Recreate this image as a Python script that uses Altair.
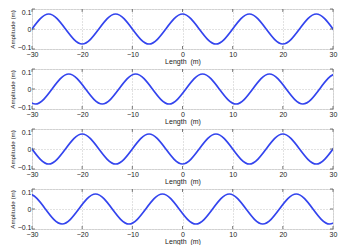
import altair as alt
import pandas as pd

# Key points (zero crossings and extrema)
X1 = [-36.67, -33.33, -30.0, -26.67, -23.33, -20.0, -16.67, -13.33, -10.0, -6.67, -3.33, 0.0,
      3.33, 6.67, 10.0, 13.33, 16.67, 20.0, 23.33, 26.67, 30.0, 33.33, 36.67]
Y1 = [0, -0.075, 0, 0.075, 0, -0.075, 0, 0.075, 0, -0.075, 0, 0.075,
      0, -0.075, 0, 0.075, 0, -0.075, 0, 0.075, 0, -0.075, 0]

X2 = [-39.33, -36.0, -32.67, -29.33, -26.0, -22.67, -19.33, -16.0, -12.67, -9.33, -6.0, -2.67,
      0.67, 4.0, 7.33, 10.67, 14.0, 17.33, 20.67, 24.0, 27.33, 30.67, 34.0, 37.33]
Y2 = [0, 0.075, 0, -0.075, 0, 0.075, 0, -0.075, 0, 0.075, 0, -0.075,
      0, 0.075, 0, -0.075, 0, 0.075, 0, -0.075, 0, 0.075, 0, -0.075]

X3 = [-36.67, -33.33, -30.0, -26.67, -23.33, -20.0, -16.67, -13.33, -10.0, -6.67, -3.33, 0.0,
      3.33, 6.67, 10.0, 13.33, 16.67, 20.0, 23.33, 26.67, 30.0, 33.33, 36.67]
Y3 = [0, 0.075, 0, -0.075, 0, 0.075, 0, -0.075, 0, 0.075, 0, -0.075,
      0, 0.075, 0, -0.075, 0, 0.075, 0, -0.075, 0, 0.075, 0]

X4 = [-37.33, -34.0, -30.67, -27.33, -24.0, -20.67, -17.33, -14.0, -10.67, -7.33, -4.0, -0.67,
      2.67, 6.0, 9.33, 12.67, 16.0, 19.33, 22.67, 26.0, 29.33, 32.67, 36.0, 39.33]
Y4 = [-0.075, 0, 0.075, 0, -0.075, 0, 0.075, 0, -0.075, 0, 0.075, 0,
      -0.075, 0, 0.075, 0, -0.075, 0, 0.075, 0, -0.075, 0, 0.075, 0]

X_TICKS = [-30, -20, -10, 0, 10, 20, 30]
Y_TICKS = [-0.1, 0, 0.1]

W, H = 301, 40
LINE = "#3344ee"
FRAME = "#9a9a9a"
TXT = "#222222"
FONT = "Liberation Sans"

xscale = alt.Scale(domain=[-30, 30], nice=False, zero=False)
yscale = alt.Scale(domain=[-0.1, 0.1], nice=False, zero=False)

xaxis = alt.Axis(
    values=X_TICKS, format="d", title="Length\u00a0 (m)",
    grid=True, gridDash=[1, 2], gridColor="#c4c4c4",
    ticks=False, domain=False, labelPadding=1, titlePadding=0,
    labelFontSize=7, titleFontSize=7, labelColor=TXT, titleColor=TXT,
    labelFont=FONT, titleFont=FONT, titleFontWeight="normal", labelFlush=False)
yaxis = alt.Axis(
    values=Y_TICKS, labelExpr="datum.value == 0 ? '0' : format(datum.value, '.1f')",
    labelOffset={"condition": [{"test": "datum.value > 0.05", "value": 3.5},
                               {"test": "datum.value < -0.05", "value": -1.5}],
                 "value": 0},
    title="Amplitude (m)", grid=True, gridDash=[1, 2], gridColor="#c4c4c4",
    ticks=False, domain=False, labelPadding=1, titlePadding=2,
    labelFontSize=7, titleFontSize=6.2, labelColor=TXT, titleColor=TXT,
    labelFont=FONT, titleFont=FONT, titleFontWeight="normal", labelFlush=False)


def panel(xs, ys):
    df = pd.DataFrame({"x": xs, "y": ys})
    line = alt.Chart(df).mark_line(
        interpolate="natural", clip=True, color=LINE, strokeWidth=1.7
    ).encode(
        x=alt.X("x:Q", scale=xscale, axis=xaxis),
        y=alt.Y("y:Q", scale=yscale, axis=yaxis),
    )
    xt = pd.DataFrame({"x": X_TICKS})
    yt = pd.DataFrame({"y": Y_TICKS})
    tk_bot = alt.Chart(xt).mark_rule(color="#555555", strokeWidth=0.8).encode(
        x=alt.X("x:Q", scale=xscale, axis=xaxis), y=alt.value(H), y2=alt.value(H - 3))
    tk_top = alt.Chart(xt).mark_rule(color="#555555", strokeWidth=0.8).encode(
        x=alt.X("x:Q", scale=xscale, axis=xaxis), y=alt.value(0), y2=alt.value(3))
    tk_l = alt.Chart(yt).mark_rule(color="#555555", strokeWidth=0.8).encode(
        y=alt.Y("y:Q", scale=yscale, axis=yaxis), x=alt.value(0), x2=alt.value(3))
    tk_r = alt.Chart(yt).mark_rule(color="#555555", strokeWidth=0.8).encode(
        y=alt.Y("y:Q", scale=yscale, axis=yaxis), x=alt.value(W - 3), x2=alt.value(W))
    return alt.layer(line, tk_bot, tk_top, tk_l, tk_r).properties(width=W, height=H)


chart = alt.vconcat(
    panel(X1, Y1), panel(X2, Y2), panel(X3, Y3), panel(X4, Y4),
    spacing=20, bounds="flush"
).properties(
    padding={"left": 0, "top": 0, "right": 4, "bottom": 0}
).configure_view(
    stroke=FRAME, strokeWidth=1
).configure(background="white")

chart.save("out.html", embed_options={"renderer": "svg", "actions": False})
